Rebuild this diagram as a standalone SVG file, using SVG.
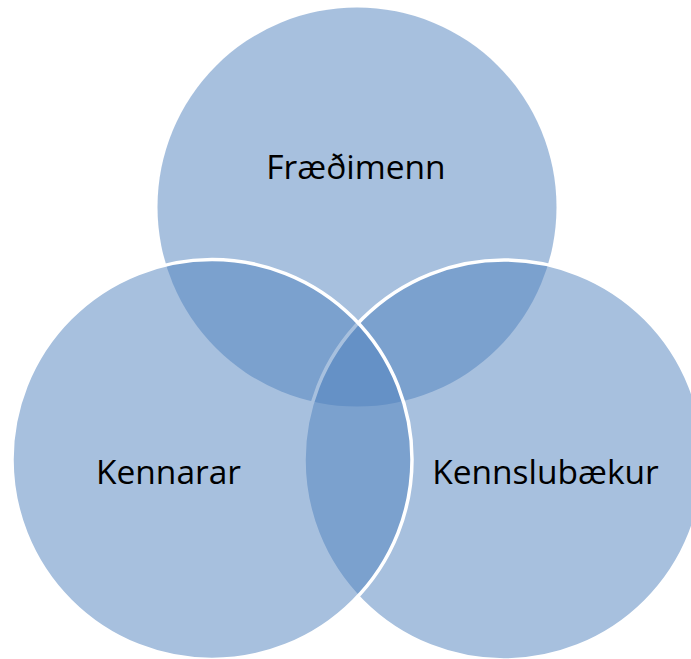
<svg xmlns="http://www.w3.org/2000/svg" width="691" height="659" viewBox="0 0 691 659">
<style>
.c{fill:#4F81BD;fill-opacity:0.5}
.s{stroke:#FFFFFF;stroke-width:3.5}
.t{font-family:"Open Sans","Liberation Sans",sans-serif;font-size:33.5px;fill:#000000;text-anchor:middle}
</style>
<rect width="691" height="659" fill="#FFFFFF"/>
<g id="fraedimenn">
<circle class="c" cx="357" cy="207" r="199.5"/>
<text class="t" x="356" y="179">Fræðimenn</text>
</g>
<g id="kennslubaekur">
<circle class="c s" cx="504" cy="460" r="200"/>
<text class="t" x="545.5" y="484">Kennslubækur</text>
</g>
<g id="kennarar">
<circle class="c s" cx="212" cy="459.5" r="200"/>
<text class="t" x="168.5" y="484">Kennarar</text>
</g>
<g id="connectors"></g>
</svg>
